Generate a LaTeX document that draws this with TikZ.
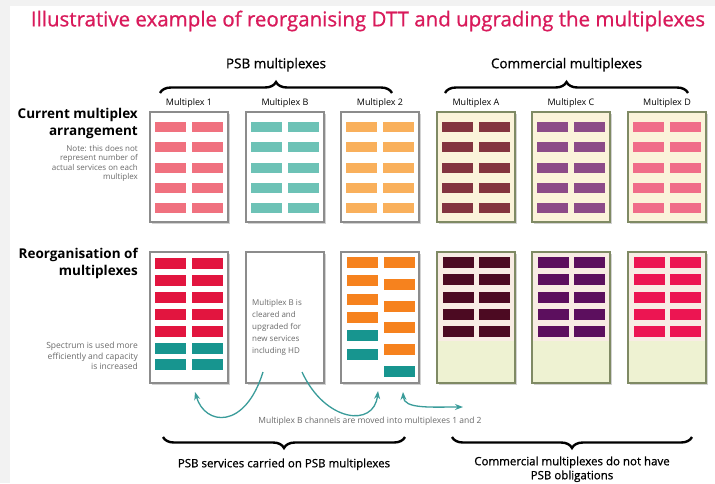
\documentclass[tikz,border=0pt]{standalone}
\usepackage{fontspec}
\setmainfont{Open Sans}
\newfontfamily\semibold{Open Sans}[FakeBold=0.8]
\usetikzlibrary{positioning,decorations.pathreplacing,shadows,arrows.meta}
\definecolor{headline}{HTML}{D91A5B}
\definecolor{boxgrey}{HTML}{8C8C8C}
\definecolor{olivegrey}{HTML}{7F8A64}
\definecolor{cream}{HTML}{FBF3DA}
\definecolor{paleolive}{HTML}{EEF2D2}
\definecolor{blushbg}{HTML}{F8ECE4}
\definecolor{coral}{HTML}{F0717F}
\definecolor{seafoam}{HTML}{6DC2B6}
\definecolor{apricot}{HTML}{F9B05C}
\definecolor{rosewood}{HTML}{83343F}
\definecolor{mauve}{HTML}{8C4B88}
\definecolor{blush}{HTML}{F06D89}
\definecolor{crimson}{HTML}{E2153F}
\definecolor{deepteal}{HTML}{17958F}
\definecolor{tangerine}{HTML}{F6821E}
\definecolor{maroon}{HTML}{4C0A22}
\definecolor{plum}{HTML}{5C0F5E}
\definecolor{raspberry}{HTML}{EC1552}
\definecolor{arrowteal}{HTML}{3A9C9A}
\definecolor{notegrey}{HTML}{6A6A6A}

\begin{document}
\begin{tikzpicture}[x=1pt,y=-1pt,
  panel/.style={draw=#1, line width=1.2pt, minimum width=78pt, inner sep=0pt,
    drop shadow={shadow xshift=1.5pt,shadow yshift=-1.8pt,opacity=0.35}},
  collabel/.style={font=\fontsize{9}{10}\selectfont, inner sep=0pt},
  rowhead/.style={font=\bfseries\fontsize{13.5}{17}\selectfont, align=right, anchor=north east, inner sep=0pt},
  note/.style={font=\fontsize{8}{9.6}\selectfont, text=notegrey, align=right, anchor=north east, inner sep=0pt},
  brace/.style={decorate, decoration={brace, amplitude=11pt}, line width=2.4pt},
  move/.style={draw=arrowteal, line width=1.3pt},
  >={Stealth[length=8pt,width=6pt]}]
  \useasboundingbox (0,0) rectangle (715,483);
  \fill[black!5] (0,0) rectangle (715,483);
  \fill[white] (10,6) rectangle (715,483);
  \node[text=headline, font=\semibold\fontsize{20.5}{22}\selectfont] (title) at (368,21)
    {Illustrative example of reorganising DTT and upgrading the multiplexes};

  \draw[brace] (160,93) -- (392,93) node[midway, above=17pt, font=\semibold\fontsize{13.5}{14}\selectfont] (psbtop) {PSB multiplexes};
  \draw[brace] (445,93) -- (688,93) node[midway, above=17pt, font=\semibold\fontsize{13.5}{14}\selectfont] (comtop) {Commercial multiplexes};

  \node[rowhead] (currhead) at (138,108) {Current multiplex\\arrangement};
  \node[note, below=6pt of currhead.south east, anchor=north east] (currnote)
    {Note: this does not\\represent number of\\actual services on each\\multiplex};

  \foreach \nm/\cx/\lab/\bd/\bg/\bc in {1/189/Multiplex 1/boxgrey/white/coral,
      B/285/Multiplex B/boxgrey/white/seafoam, 2/380/Multiplex 2/boxgrey/white/apricot,
      A/476/Multiplex A/olivegrey/cream/rosewood, C/571/Multiplex C/olivegrey/cream/mauve,
      D/667/Multiplex D/olivegrey/cream/blush} {
    \node[panel=\bd, fill=\bg, minimum height=110pt] (cur\nm) at (\cx,167) {};
    \node[collabel, above=4pt of cur\nm] (lab\nm) {\lab};
    \foreach \x in {\cx-34,\cx+3}
      \foreach \r in {0,...,4}
        \fill[\bc] (\x,122+20.3*\r) rectangle ++(31,10);
  }

  \node[rowhead] (reohead) at (138,248) {Reorganisation of\\multiplexes};
  \node[note, font=\fontsize{8.5}{10.5}\selectfont] (reonote) at (138,342) {Spectrum is used more\\efficiently and capacity\\is increased};

  \node[panel=boxgrey, fill=white, minimum height=131pt] (reo1) at (189,317.5) {};
  \foreach \x in {155,192} {
    \foreach \r in {0,...,4}
      \fill[crimson] (\x,258+16.9*\r) rectangle ++(31,11);
    \foreach \r in {5,6}
      \fill[deepteal] (\x,258+16.9*\r) rectangle ++(31,11);
  }

  \node[panel=boxgrey, fill=white, minimum height=131pt] (reoB) at (285,317.5) {};
  \node[anchor=north west, align=left, inner sep=0pt, text=notegrey,
    font=\fontsize{8}{12}\selectfont] (reoBtext) at (252,299)
    {Multiplex B is\\cleared and\\upgraded for\\new services\\including HD};

  \node[panel=boxgrey, fill=white, minimum height=131pt] (reo2) at (380,317.5) {};
  \foreach \r in {0,...,3}
    \fill[tangerine] (347,257+18.3*\r) rectangle ++(31,11);
  \foreach \r in {4,5}
    \fill[deepteal] (347,257+18.3*\r) rectangle ++(31,11);
  \foreach \r in {0,...,4}
    \fill[tangerine] (384,257+21.8*\r) rectangle ++(31,11);
  \fill[deepteal] (384,366) rectangle ++(31,11);

  \foreach \nm/\cx/\bc in {A/476/maroon, C/571/plum, D/667/raspberry} {
    \node[panel=olivegrey, fill=paleolive, minimum height=131pt] (reo\nm) at (\cx,317.5) {};
    \fill[blushbg] (\cx-38,253) rectangle (\cx+38,341);
    \foreach \x in {\cx-33,\cx+3}
      \foreach \r in {0,...,4}
        \fill[\bc] (\x,257+17.3*\r) rectangle ++(31,11);
  }

  \coordinate (fromB1) at (263,372);
  \coordinate (fromB2) at (302,372);
  \coordinate (into1) at (195,392);
  \coordinate (into2) at (378,391);
  \coordinate (into2b) at (403,392);
  \coordinate (onward) at (463,407);
  \draw[move, ->] (fromB1) .. controls (245,430) and (205,426) .. (into1);
  \draw[move, ->] (fromB2) .. controls (325,422) and (374,428) .. (into2);
  \draw[move, <->] (into2b) .. controls (404,409) and (430,407) .. (onward);
  \node[text=notegrey, font=\fontsize{8.5}{10}\selectfont, inner sep=0pt] (movetext) at (370,421)
    {Multiplex B channels are moved into multiplexes 1 and 2};

  \draw[brace] (405,437) -- (163,437) node[midway, below=17pt, font=\semibold\fontsize{11.5}{14}\selectfont] (psbbot)
    {PSB services carried on PSB multiplexes};
  \draw[brace] (692,437) -- (452,437) node[midway, below=15pt, align=center, font=\semibold\fontsize{11.5}{14}\selectfont] (combot)
    {Commercial multiplexes do not have\\PSB obligations};
\end{tikzpicture}
\end{document}
